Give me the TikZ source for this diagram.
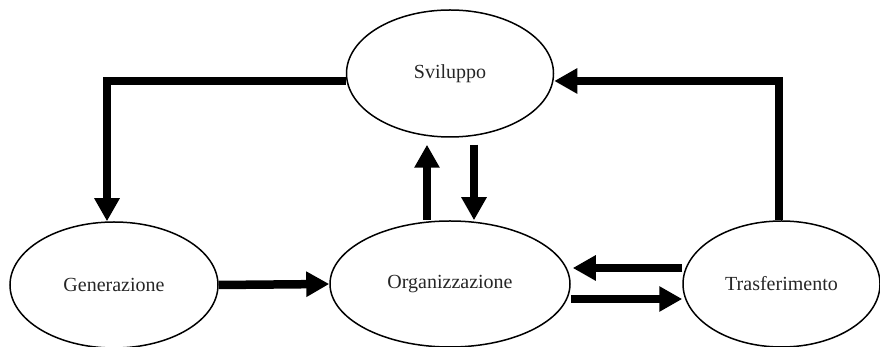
\documentclass[tikz,border=0pt]{standalone}
\usepackage{fontspec}
\setmainfont{Liberation Serif}
\usetikzlibrary{shapes.geometric,arrows.meta}
\begin{document}
\begin{tikzpicture}[x=1pt,y=1pt,
  phase/.style={draw=black, line width=1.5pt, ellipse, inner sep=0pt,
    font=\fontsize{20}{24}\selectfont, text=black!85},
  flow/.style={line width=8.5pt, line join=miter,
    -{Triangle[width=24pt,length=23pt]}}]
  \useasboundingbox (0,0) rectangle (880,347);

  % the four phases
  \node[phase, minimum width=207pt, minimum height=127pt] (sv) at (450,273.5) {Sviluppo};
  \node[phase, minimum width=208pt, minimum height=126pt] (gen) at (114,62) {Generazione};
  \node[phase, minimum width=240pt, minimum height=126pt] (org) at (450,63) {Organizzazione};
  \node[phase, minimum width=197pt, minimum height=126pt] (tr) at (781.5,63) {Trasferimento};

  % outer loop
  \draw[flow] ([yshift=-7.5pt]sv.west) -| ([xshift=-7pt]gen.north);
  \draw[flow] ([xshift=-2.5pt]tr.north) |- ([yshift=-7.5pt]sv.east);

  % generation feeds organisation
  \draw[flow] (gen.east) -- (org.west);

  % exchange between organisation and development
  \draw[flow] ([xshift=-23pt]org.north) -- ([xshift=-23pt,yshift=-7pt]sv.south);
  \draw[flow] ([xshift=24pt,yshift=-7pt]sv.south) -- ([xshift=24pt]org.north);

  % exchange between organisation and transfer
  \draw[flow] ([yshift=16pt]tr.west) -- ([xshift=2pt,yshift=16pt]org.east);
  \draw[flow] ([yshift=-15pt]org.east) -- ([yshift=-15pt]tr.west);
\end{tikzpicture}
\end{document}
